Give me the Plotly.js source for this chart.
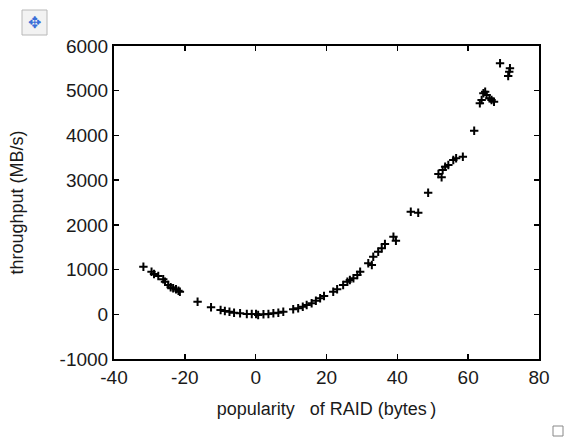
<!DOCTYPE html>
<html>
<head>
<meta charset="utf-8">
<script src="https://cdn.plot.ly/plotly-3.0.1.min.js"></script>
<style>html,body{margin:0;padding:0;background:#fff;}#chart{width:565px;height:437px;}</style>
</head>
<body>
<div id="chart"></div>
<script>
// popularity of RAID (bytes)
const popularity = [-31.7,-29.4,-28.7,-27.5,-26.1,-25.6,-24.7,-24.0,-23.3,-22.5,-21.8,-21.4,
  -16.4,-12.6,-9.9,-8.7,-7.4,-6.1,-4.4,-2.5,-1.1,0.1,0.7,2.2,3.6,5.0,6.4,7.8,
  10.6,12.0,13.3,14.4,15.8,17.0,18.2,19.3,21.9,23.0,24.7,25.9,26.6,27.6,28.7,29.5,
  31.8,32.8,33.2,34.6,35.6,36.5,38.9,39.6,43.8,45.9,48.7,51.6,52.5,52.8,53.5,54.4,
  55.8,56.6,58.5,61.7,63.3,63.8,64.3,64.8,65.2,66.0,66.6,67.3,69.0,71.8,71.6,71.3];
// throughput (MB/s)
const throughput = [1064,952,901,856,782,729,655,603,581,559,528,505,
  282,156,96,74,58,36,22,6,6,6,-16,0,6,22,36,58,
  112,134,170,208,246,304,358,409,505,559,655,729,767,805,879,952,
  1140,1102,1288,1400,1476,1572,1735,1646,2294,2272,2719,3137,3064,3227,3301,3339,
  3451,3489,3524,4106,4719,4792,4942,4978,4904,4830,4792,4754,5613,5501,5425,5329];

const xTickVals = [-40,-20,0,20,40,60,80];
const xTickText = ["-40","-20","0","20","40","60","80"];
const yTickVals = [-1000,0,1000,2000,3000,4000,5000,6000];
const yTickText = ["-1000","0","1000","2000","3000","4000","5000","6000"];

const font = "Arial, 'Liberation Sans', sans-serif";

const trace = {
  x: popularity, y: throughput, type: "scatter", mode: "markers",
  marker: {symbol: "cross-thin", size: 6, color: "#000", line: {color: "#000", width: 2}},
  hoverinfo: "none"
};

const axisCommon = {
  showgrid: false, zeroline: false, showline: true, linecolor: "#000", linewidth: 2,
  mirror: "ticks", ticks: "inside", ticklen: 5, tickwidth: 1.5, tickcolor: "#000",
  tickmode: "array", tickfont: {family: font, size: 19, color: "#1a1a1a"}
};

const layout = {
  width: 565, height: 437,
  margin: {l: 114, r: 26, t: 46, b: 78},
  paper_bgcolor: "#fff", plot_bgcolor: "#fff",
  showlegend: false,
  xaxis: Object.assign({}, axisCommon, {
    range: [-40, 80], tickvals: xTickVals, ticktext: xTickText,
    title: {text: "popularity\u00a0\u00a0\u00a0of RAID (bytes\u2009)", font: {family: font, size: 18, color: "#1a1a1a"}, standoff: 16}
  }),
  yaxis: Object.assign({}, axisCommon, {
    range: [-1000, 6000], tickvals: yTickVals, ticktext: yTickText,
    title: {text: "throughput (MB/s)", font: {family: font, size: 18, color: "#1a1a1a"}, standoff: 31}
  }),
  shapes: [
    {type: "rect", xref: "paper", yref: "paper", layer: "above",
     x0: (22-114)/425, x1: (47-114)/425, y0: (359-35)/313, y1: (359-10)/313,
     line: {color: "#b8b8b8", width: 1}, fillcolor: "#f2f2f2"},
    {type: "rect", xref: "paper", yref: "paper", layer: "above",
     x0: (553-114)/425, x1: (563-114)/425, y0: (359-436)/313, y1: (359-426)/313,
     line: {color: "#888", width: 1}, fillcolor: "#fff"}
  ],
  annotations: [
    {xref: "paper", yref: "paper", x: (34.5-114)/425, y: (359-22.5)/313,
     text: "\u2725", showarrow: false, xanchor: "center", yanchor: "middle",
     font: {family: "DejaVu Sans", size: 16, color: "#3a6fd8"}}
  ]
};

Plotly.newPlot("chart", [trace], layout, {displayModeBar: false, staticPlot: true});
</script>
</body>
</html>
